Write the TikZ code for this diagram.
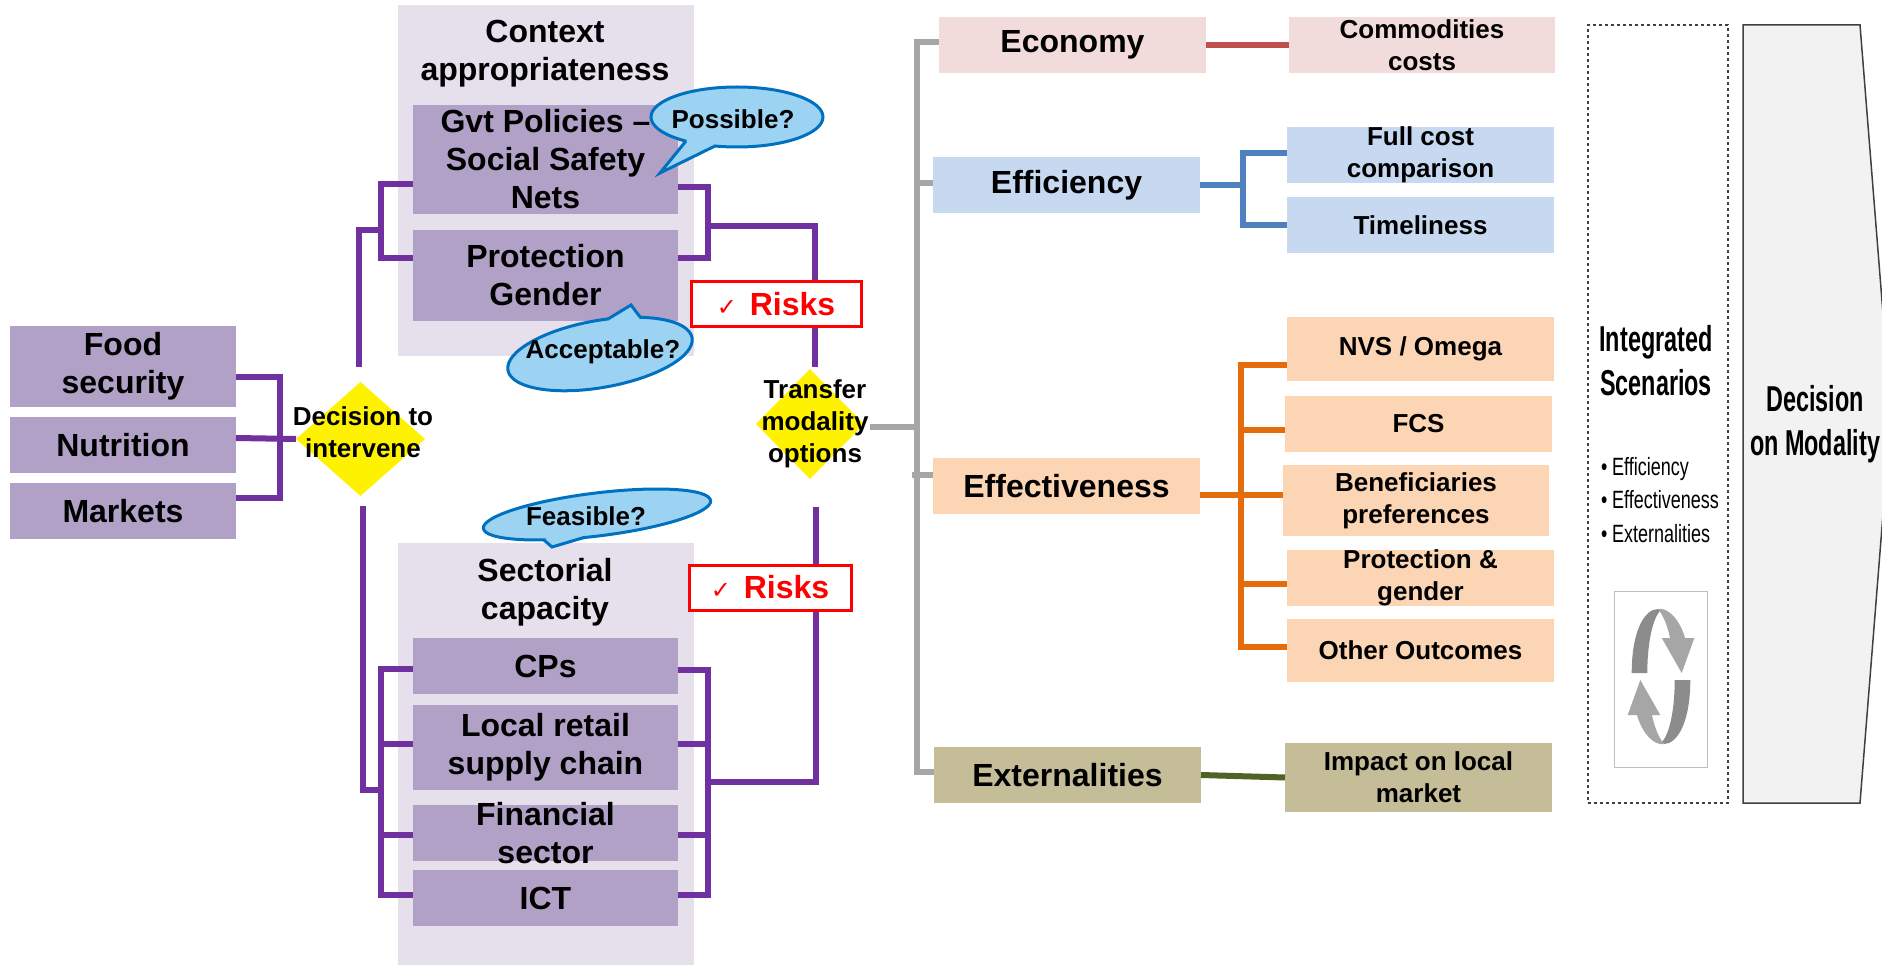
\documentclass[tikz,border=0pt]{standalone}
\usepackage{fontspec}
\setmainfont{Liberation Sans}
\newfontfamily\narrowbold[FakeStretch=0.65]{Liberation Sans}
\newfontfamily\narrowfont[FakeStretch=0.72]{Liberation Sans}
\newfontfamily\tickfont{DejaVu Sans}
\usetikzlibrary{shapes.geometric}
\definecolor{panelpurple}{HTML}{E6E0EC}
\definecolor{boxpurple}{HTML}{B2A1C7}
\definecolor{linepurple}{HTML}{7030A0}
\definecolor{boxrose}{HTML}{F2DCDB}
\definecolor{linerose}{HTML}{C0504D}
\definecolor{boxblue}{HTML}{C6D9F1}
\definecolor{lineblue}{HTML}{4F81BD}
\definecolor{boxorange}{HTML}{FCD5B5}
\definecolor{lineorange}{HTML}{E46C0A}
\definecolor{boxolive}{HTML}{C4BD97}
\definecolor{lineolive}{HTML}{4F6228}
\definecolor{linegray}{HTML}{A6A6A6}
\definecolor{bubblefill}{HTML}{9DD3F2}
\definecolor{bubbleedge}{HTML}{0070C0}
\tikzset{
  plainbox/.style={inner sep=0pt,outer sep=0pt,minimum width=#1},
  bigtext/.style={font=\fontsize{32}{38}\selectfont\bfseries,align=center,inner sep=0pt},
  midtext/.style={font=\fontsize{26}{32}\selectfont\bfseries,align=center,inner sep=0pt},
  bubble/.style={ellipse,draw=bubbleedge,fill=bubblefill,line width=3pt,inner sep=0pt},
  decision/.style={diamond,fill=yellow,inner sep=0pt,outer sep=0pt,aspect=1},
  risk/.style={draw=red,fill=white,line width=3pt,text=red,inner sep=0pt,
    font=\fontsize{32}{38}\selectfont\bfseries},
  purplelink/.style={draw=linepurple,line width=6pt},
  graylink/.style={draw=linegray,line width=6pt},
  bluelink/.style={draw=lineblue,line width=6pt},
  orangelink/.style={draw=lineorange,line width=6pt}
}
\begin{document}
\begin{tikzpicture}[x=1pt,y=-1pt]
  \useasboundingbox (0,0) rectangle (1882,965);
  % panels
  \node[plainbox=296pt,fill=panelpurple,minimum height=351pt] (ctxpanel) at (546,180.5) {};
  \node[plainbox=296pt,fill=panelpurple,minimum height=422pt] (secpanel) at (546,754) {};
  \node[bigtext] (ctxtitle) at (545,54) {Context\\appropriateness};
  \node[bigtext] (sectitle) at (545,592) {Sectorial\\capacity};
  % left boxes
  \node[plainbox=226pt,fill=boxpurple,minimum height=81pt,label={[bigtext]center:Food\\security}] (food) at (123,366.5) {};
  \node[plainbox=226pt,fill=boxpurple,minimum height=56pt,label={[bigtext]center:Nutrition}] (nutr) at (123,445) {};
  \node[plainbox=226pt,fill=boxpurple,minimum height=56pt,label={[bigtext]center:Markets}] (mark) at (123,511) {};
  % context boxes
  \node[plainbox=265pt,fill=boxpurple,minimum height=109pt,label={[bigtext]center:Gvt Policies --\\Social Safety\\Nets}] (gvt) at (545.5,159.5) {};
  \node[plainbox=265pt,fill=boxpurple,minimum height=91pt,label={[bigtext]center:Protection\\Gender}] (prot) at (545.5,275.5) {};
  % sector boxes
  \node[plainbox=265pt,fill=boxpurple,minimum height=56pt,label={[bigtext]center:CPs}] (cps) at (545.5,666) {};
  \node[plainbox=265pt,fill=boxpurple,minimum height=85pt,label={[bigtext]center:Local retail\\supply chain}] (retail) at (545.5,747.5) {};
  \node[plainbox=265pt,fill=boxpurple,minimum height=56pt,label={[bigtext]center:Financial\\sector}] (fin) at (545.5,833) {};
  \node[plainbox=265pt,fill=boxpurple,minimum height=56pt,label={[bigtext]center:ICT}] (ict) at (545.5,898) {};
  % criteria
  \node[plainbox=267pt,fill=boxrose,minimum height=56pt,label={[bigtext]center:Economy}] (econ) at (1072.5,45) {};
  \node[plainbox=267pt,fill=boxblue,minimum height=56pt,label={[bigtext]center:Efficiency}] (eff) at (1066.5,185) {};
  \node[plainbox=267pt,fill=boxorange,minimum height=56pt,label={[bigtext]center:Effectiveness}] (eft) at (1066.5,486) {};
  \node[plainbox=267pt,fill=boxolive,minimum height=56pt,label={[bigtext]center:Externalities}] (ext) at (1067.5,775) {};
  % sub criteria
  \node[plainbox=266pt,fill=boxrose,minimum height=56pt,label={[midtext]center:Commodities\\costs}] (comm) at (1422,45) {};
  \node[plainbox=267pt,fill=boxblue,minimum height=56pt,label={[midtext]center:Full cost\\comparison}] (cost) at (1420.5,155) {};
  \node[plainbox=267pt,fill=boxblue,minimum height=56pt,label={[midtext]center:Timeliness}] (time) at (1420.5,225) {};
  \node[plainbox=267pt,fill=boxorange,minimum height=64pt,label={[midtext]center:NVS / Omega}] (nvs) at (1420.5,349) {};
  \node[plainbox=267pt,fill=boxorange,minimum height=56pt,label={[midtext]center:FCS}] (fcs) at (1418.5,424) {};
  \node[plainbox=266pt,fill=boxorange,minimum height=71pt,label={[midtext]center:Beneficiaries\\preferences}] (bene) at (1416,500.5) {};
  \node[plainbox=267pt,fill=boxorange,minimum height=56pt,label={[midtext]center:Protection \&\\gender}] (gend) at (1420.5,578) {};
  \node[plainbox=267pt,fill=boxorange,minimum height=63pt,label={[midtext]center:Other Outcomes}] (other) at (1420.5,650.5) {};
  \node[plainbox=267pt,fill=boxolive,minimum height=69pt,label={[midtext]center:Impact on local\\market}] (imp) at (1418.5,777.5) {};
  % diamonds
  \node[decision,minimum width=129pt,minimum height=114pt] (dec) at (360.5,439) {};
  \node[decision,minimum width=108pt,minimum height=110pt] (opt) at (810,424) {};
  % bus points
  \coordinate (foodbus) at (280,438);
  \coordinate (ctxleft) at (381,230);
  \coordinate (ctxright) at (708,226);
  \coordinate (secleft) at (381,790);
  \coordinate (secright) at (708,782);
  \coordinate (effbus) at (1243,185);
  \coordinate (eftbus) at (1241,495);
  \coordinate (optbus) at (917,427);
  % purple connectors
  \draw[purplelink] (food.east |- 0,377) -| (foodbus) |- (mark.east |- 0,498);
  \draw[purplelink] (nutr.east |- 0,438) -- (dec.west);
  \draw[purplelink,shorten <=15pt] ([xshift=-1.5pt]dec.north) |- (ctxleft);
  \draw[purplelink] (gvt.west |- 0,184) -| (ctxleft) |- (prot.west |- 0,258);
  \draw[purplelink] (gvt.east |- 0,187) -| (ctxright) |- (prot.east |- 0,258);
  \draw[purplelink,shorten >=2pt] (ctxright) -| ([xshift=5pt]opt.north);
  \draw[purplelink,shorten <=10pt] ([xshift=2.5pt]dec.south) |- (secleft);
  \draw[purplelink] (cps.west |- 0,669) -| (secleft) |- (ict.west |- 0,895);
  \draw[purplelink] (retail.west |- 0,744) -- (secleft |- 0,744);
  \draw[purplelink] (fin.west |- 0,835) -- (secleft |- 0,835);
  \draw[purplelink] (cps.east |- 0,670) -| (secright) |- (ict.east |- 0,895);
  \draw[purplelink] (retail.east |- 0,744) -- (secright |- 0,744);
  \draw[purplelink] (fin.east |- 0,835) -- (secright |- 0,835);
  \draw[purplelink,shorten >=28pt] (secright) -| ([xshift=6pt]opt.south);
  % gray connectors
  \draw[graylink,shorten <=6pt] (opt.east |- optbus) -- (optbus);
  \draw[graylink] (econ.west |- 0,42) -| (optbus) |- (ext.west |- 0,772);
  \draw[graylink] (eff.west |- 0,183) -- (optbus |- 0,183);
  \draw[graylink] (eft.west |- 0,475) -- ([xshift=-5pt]optbus |- 0,475);
  % other connectors
  \draw[draw=linerose,line width=6pt] (econ.east) -- (comm.west);
  \draw[bluelink] (eff.east) -- (effbus);
  \draw[bluelink] (cost.west |- 0,153) -| (effbus) |- (time.west);
  \draw[orangelink] (eft.east |- eftbus) -- (bene.west |- eftbus);
  \draw[orangelink] (nvs.west |- 0,365) -| (eftbus) |- (other.west |- 0,647);
  \draw[orangelink] (fcs.west |- 0,430) -- (eftbus |- 0,430);
  \draw[orangelink] (gend.west |- 0,584) -- (eftbus |- 0,584);
  \draw[draw=lineolive,line width=6pt] (ext.east) -- (imp.west);
  % risks
  \node[risk,minimum width=170pt,minimum height=45pt] (riskup) at (776,304.5) {{\tickfont\fontsize{24}{24}\selectfont\char"2713}\hspace{13pt}Risks};
  \node[risk,minimum width=162pt,minimum height=45pt] (risklow) at (770,587.5) {{\tickfont\fontsize{24}{24}\selectfont\char"2713}\hspace{13pt}Risks};
  % diamond texts
  \node[midtext] (dectext) at (363,432.5) {Decision to\\intervene};
  \node[midtext] (opttext) at (815,423.5) {Transfer\\modality\\options};
  % bubbles
  \node[bubble,minimum width=172pt,minimum height=60pt] (poss) at (737,117) {};
  \fill[bubblefill] (686,141) -- (660,173) -- (715,146) -- (705,125) -- cycle;
  \draw[draw=bubbleedge,line width=3pt] (686,141) -- (660,173) -- (715,146);
  \node[midtext] (posstext) at (733,119) {Possible?};
  \node[bubble,rotate=10,minimum width=187pt,minimum height=67pt] (acc) at (600,354) {};
  \fill[bubblefill] (608,319) -- (631,305) -- (640,317) -- (625,340) -- cycle;
  \draw[draw=bubbleedge,line width=3pt] (608,319) -- (631,305) -- (640,317);
  \node[midtext] (acctext) at (603,352) {Acceptable?};
  \node[bubble,rotate=7,minimum width=229pt,minimum height=43pt] (feas) at (597,514.5) {};
  \fill[bubblefill] (544,540) -- (552,547) -- (584,537.5) -- (565,525) -- cycle;
  \draw[draw=bubbleedge,line width=3pt] (544,540) -- (552,547) -- (584,537.5);
  \node[midtext] (feastext) at (586,516) {Feasible?};
  % scenarios
  \node[plainbox=140pt,draw=black!75,dashed,line width=1.5pt,minimum height=778pt] (scen) at (1658,414) {};
  \node[font=\fontsize{36}{44}\selectfont\narrowbold\bfseries,align=center,inner sep=0pt] (scentitle) at (1656,361) {Integrated\\Scenarios};
  \node[font=\fontsize{25}{33.5}\selectfont\narrowfont,align=left,inner sep=0pt,anchor=west] (scenlist) at (1601,500)
    {\makebox[11pt][l]{•}Efficiency\\\makebox[11pt][l]{•}Effectiveness\\\makebox[11pt][l]{•}Externalities};
  \node[plainbox=93pt,draw=black!25,line width=1pt,minimum height=176pt] (cycle) at (1660.5,679) {};
  \foreach \ang in {0,180} {
    \begin{scope}[rotate around={\ang:(1661,676.5)}]
      \fill[black!45] (1631.7,673) .. controls (1631.7,630) and (1645,609) .. (1658,609)
        -- (1660,611) .. controls (1652,620) and (1647.3,645) .. (1647.3,673) -- cycle;
      \fill[black!35] (1658,609) .. controls (1668,607) and (1680,620) .. (1685,638)
        -- (1694.3,638) -- (1681.7,673) -- (1661.7,638) -- (1670,638)
        .. controls (1668,628) and (1664,616) .. (1658,609) -- cycle;
    \end{scope}
  }
  % decision arrow
  \draw[fill=black!5,draw=black!75,line width=1.5pt] (1743,25) coordinate (arrowtop) -- (1860,25) -- (1891,414) coordinate (arrowtip) -- (1860,803) -- (1743,803) -- cycle;
  \node[font=\fontsize{36}{44}\selectfont\narrowbold\bfseries,align=center,inner sep=0pt] (modality) at (1815,424) {Decision\\on Modality};
\end{tikzpicture}
\end{document}
